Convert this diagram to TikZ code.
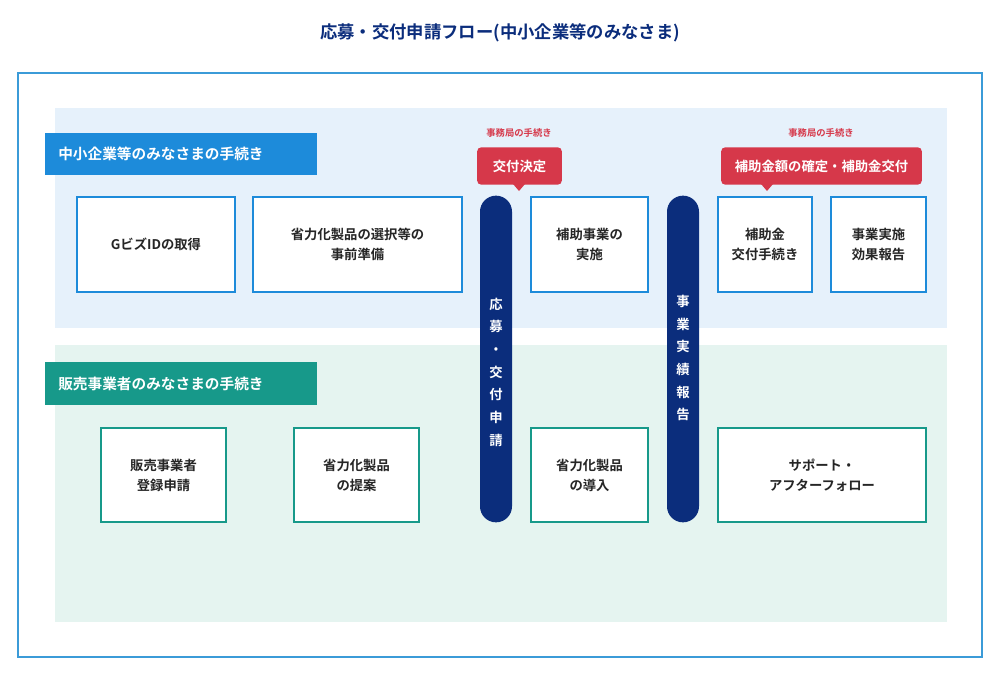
\documentclass[tikz,border=0pt]{standalone}
\usepackage{fontspec}
\setmainfont{Noto Sans CJK JP}[BoldFont={* Bold}]
\usetikzlibrary{positioning}
\definecolor{navy}{HTML}{0B2D7C}
\definecolor{frameblue}{HTML}{3B9BD8}
\definecolor{bandblue}{HTML}{E6F1FB}
\definecolor{bandteal}{HTML}{E5F4F0}
\definecolor{tagblue}{HTML}{1D8BDA}
\definecolor{tagteal}{HTML}{17998A}
\definecolor{callred}{HTML}{D6384A}

\tikzset{
  upbox/.style={draw=tagblue, line width=1.5pt, fill=white, align=center, font=\bfseries\fontsize{10}{15}\selectfont, text=black!85},
  lowbox/.style={draw=tagteal, line width=1.5pt, fill=white, align=center, font=\bfseries\fontsize{10}{15}\selectfont, text=black!85},
  pillar/.style={fill=navy, rounded corners=12pt, text=white, font=\bfseries\fontsize{10}{17}\selectfont, align=center},
  tag/.style={text=white, font=\bfseries\fontsize{11}{13}\selectfont, anchor=west, inner sep=0pt},
  callout/.style={fill=callred, rounded corners=3pt, text=white, font=\bfseries\fontsize{10}{12}\selectfont},
  note/.style={text=callred, font=\bfseries\fontsize{7}{9}\selectfont},
}

\begin{document}
\begin{tikzpicture}[x=0.75pt, y=-0.75pt]
   \useasboundingbox (0,0) rectangle (1000,678);
   \node[text=navy, font=\bfseries\fontsize{13}{15}\selectfont] (title) at (500,33) {応募・交付申請フロー(中小企業等のみなさま)};
   \draw[frameblue, line width=1.2pt] (18,73) rectangle (982,657);

   % bands
   \fill[bandblue] (55,108) rectangle (947,328);
   \fill[bandteal] (55,345) rectangle (947,622);
   \fill[tagblue] (45,133) rectangle (317,175);
   \node[tag] (tagup) at (58,154) {中小企業等のみなさまの手続き};
   \fill[tagteal] (45,362) rectangle (317,405);
   \node[tag] (taglow) at (58,384) {販売事業者のみなさまの手続き};

   % upper row
   \node[upbox, minimum width=118.5pt, minimum height=71pt] (gbiz) at (156,244.5) {GビズIDの取得};
   \node[upbox, minimum width=156.5pt, minimum height=71pt] (prep) at (357.5,244.5) {省力化製品の選択等の\\事前準備};
   \node[upbox, minimum width=87.5pt, minimum height=71pt] (exec) at (589.5,244.5) {補助事業の\\実施};
   \node[upbox, minimum width=70.5pt, minimum height=71pt] (grant) at (765,244.5) {補助金\\交付手続き};
   \node[upbox, minimum width=71pt, minimum height=71pt] (report) at (878.5,244.5) {事業実施\\効果報告};

   % lower row
   \node[lowbox, minimum width=93.5pt, minimum height=71pt] (reg) at (163.5,475) {販売事業者\\登録申請};
   \node[lowbox, minimum width=93.5pt, minimum height=71pt] (prop) at (356.5,475) {省力化製品\\の提案};
   \node[lowbox, minimum width=87.5pt, minimum height=71pt] (intro) at (589.5,475) {省力化製品\\の導入};
   \node[lowbox, minimum width=156pt, minimum height=71pt] (supp) at (822,475) {サポート・\\アフターフォロー};

   % pillars
   \node[pillar, minimum width=24pt, minimum height=245pt] (apply) at (496,359) {};
   \node[pillar, minimum width=24pt, minimum height=245pt] (done) at (683,359) {};
   \node[text=white, font=\bfseries\fontsize{10}{17}\selectfont, align=center] (applytxt) at (496,372) {応\\募\\・\\交\\付\\申\\請};
   \node[text=white, font=\bfseries\fontsize{10}{17}\selectfont, align=center] (donetxt) at (683,358) {事\\業\\実\\績\\報\\告};

   \begin{scope}[on background layer/.style={}]
   \end{scope}

   % callouts
   \node[note] (note1) at (519,133) {事務局の手続き};
   \node[callout, minimum width=63.5pt, minimum height=28pt] (dec) at (519.5,166) {交付決定};
   \fill[callred] (513,184) -- (525,184) -- (519,191) -- cycle;
   \node[note] (note2) at (821,133) {事務局の手続き};
   \node[callout, minimum width=150.5pt, minimum height=28pt] (conf) at (821.5,166) {補助金額の確定・補助金交付};
   \fill[callred] (761,184) -- (773,184) -- (767,191) -- cycle;
\end{tikzpicture}
\end{document}
